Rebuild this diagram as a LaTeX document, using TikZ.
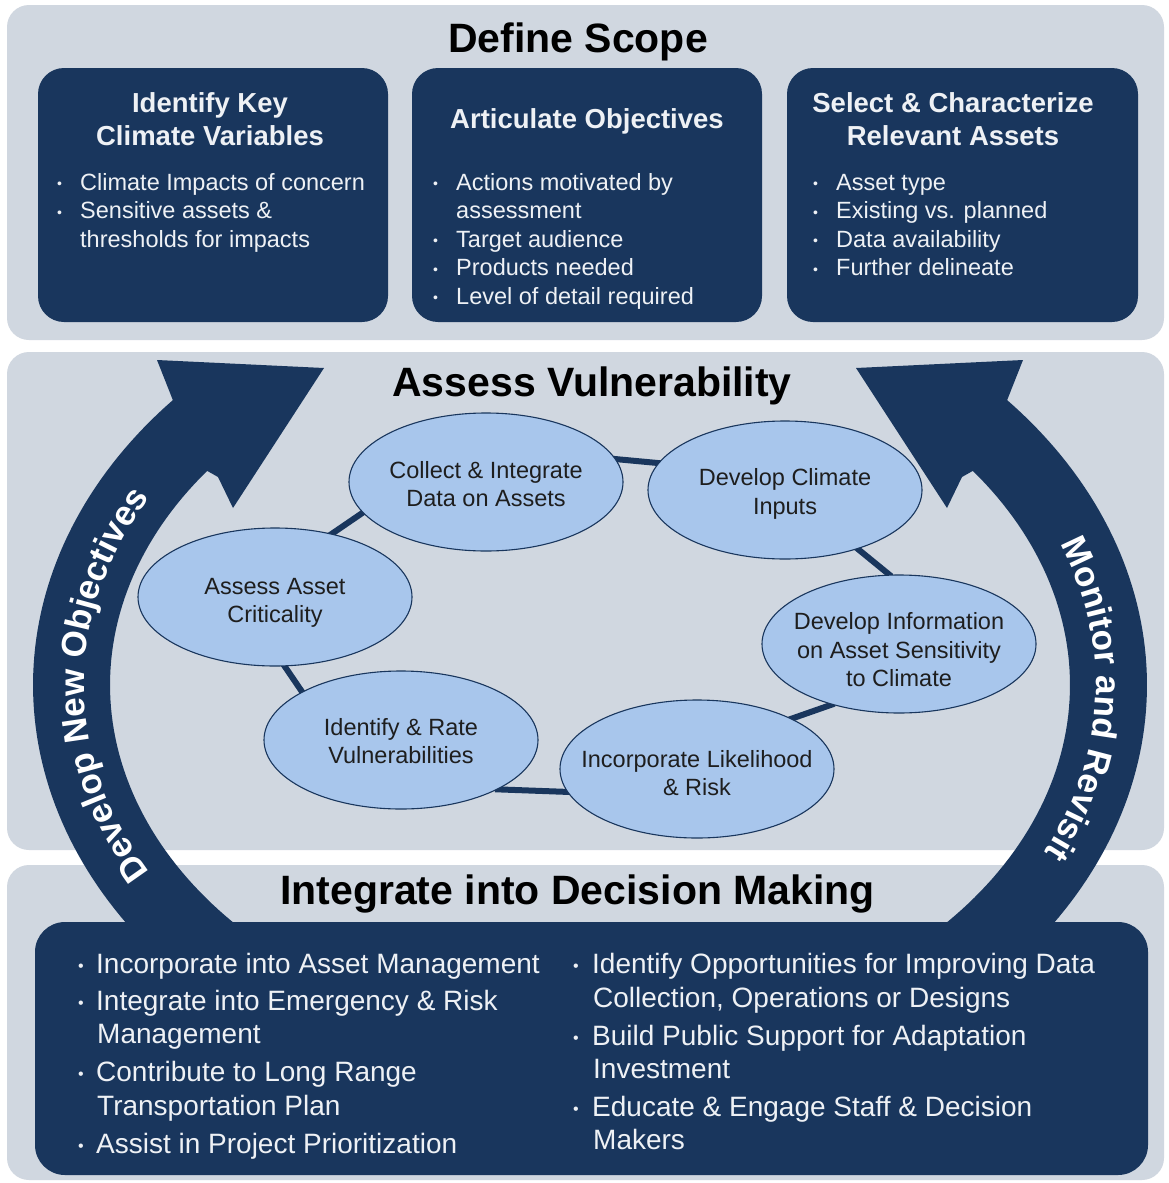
\documentclass[tikz,border=0pt]{standalone}
\usepackage{fontspec}
\setmainfont{Liberation Sans}
\usetikzlibrary{shapes.geometric,decorations.text}
\definecolor{navy}{RGB}{25,54,93}
\definecolor{panel}{RGB}{208,215,224}
\definecolor{ellfill}{RGB}{168,198,236}
\definecolor{wtxt}{RGB}{238,241,245}
\definecolor{etext}{RGB}{30,30,30}
\pgfdeclarelayer{bg}
\pgfdeclarelayer{fg}
\pgfsetlayers{bg,main,fg}
\newcommand\mybul[2]{\makebox[#1pt][l]{\raisebox{1.5pt}{\fontsize{#2}{#2}\selectfont\textbullet}}}
\newcommand\arrowfont{\fontsize{35}{35}\selectfont\bfseries}
\begin{document}
\begin{tikzpicture}[x=1pt,y=-1pt,
  titletext/.style={font=\fontsize{41}{41}\selectfont\bfseries, text=black, inner sep=0, anchor=base},
  headtext/.style={font=\fontsize{27.5}{33}\selectfont\bfseries, text=wtxt, inner sep=0, anchor=base},
  bt/.style={font=\fontsize{23.5}{28}\selectfont, text=wtxt, inner sep=0, anchor=base west},
  bb/.style={font=\fontsize{28}{33}\selectfont, text=wtxt, inner sep=0, anchor=base west},
  navybox/.style={fill=navy, rounded corners=26pt, inner sep=0},
  ell/.style={ellipse, fill=ellfill, draw=navy, line width=1.1pt, minimum width=274pt, minimum height=138pt, inner sep=0},
  etxt/.style={font=\fontsize{23.5}{28.5}\selectfont, align=center, text=etext, inner sep=0},
  ringline/.style={draw=navy, line width=6pt, shorten <=-3pt, shorten >=-3pt},
  panelbox/.style={fill=panel, rounded corners=22pt}
]
\useasboundingbox (0,0) rectangle (1169,1183);

\begin{pgfonlayer}{bg}
\fill[white] (0,0) rectangle (1169,1183);
\fill[panelbox] (7,5) rectangle (1164,340);
\fill[panelbox] (7,352) rectangle (1164,850);
\fill[panelbox] (7,865) rectangle (1164,1180);
\end{pgfonlayer}

% titles
\node[titletext] (t1) at (578,52.7) {Define Scope};
\node[titletext] (t2) at (592,396.7) {Assess Vulnerability};
\node[titletext] (t3) at (577.5,904) {Integrate into Decision Making};

% top boxes
\node[navybox, minimum width=350pt, minimum height=254pt] (sc1) at (213,195) {};
\node[navybox, minimum width=350pt, minimum height=254pt] (sc2) at (587,195) {};
\node[navybox, minimum width=351pt, minimum height=254pt] (sc3) at (962.5,195) {};

\node[headtext] (h1a) at (210,112) {Identify Key};
\node[headtext] (h1b) at (210,145) {Climate Variables};
\node[headtext] (h2a) at (587,128) {Articulate Objectives};
\node[headtext] (h3a) at (953,112) {Select \& Characterize};
\node[headtext] (h3b) at (953,145) {Relevant Assets};

\node[bt] (l1a) at (57,190) {\mybul{23}{14}Climate Impacts of concern};
\node[bt] (l1b) at (57,218.6) {\mybul{23}{14}Sensitive assets \&};
\node[bt] (l1c) at (80,247.2) {thresholds for impacts};

\node[bt] (l2a) at (433,190) {\mybul{23}{14}Actions motivated by};
\node[bt] (l2b) at (456,218.6) {assessment};
\node[bt] (l2c) at (433,247.2) {\mybul{23}{14}Target audience};
\node[bt] (l2d) at (433,275.8) {\mybul{23}{14}Products needed};
\node[bt] (l2e) at (433,304.4) {\mybul{23}{14}Level of detail required};

\node[bt] (l3a) at (813,190) {\mybul{23}{14}Asset type};
\node[bt] (l3b) at (813,218.6) {\mybul{23}{14}Existing vs. planned};
\node[bt] (l3c) at (813,247.2) {\mybul{23}{14}Data availability};
\node[bt] (l3d) at (813,275.8) {\mybul{23}{14}Further delineate};

% big curved arrows
\fill[navy] plot[domain=140.2:221.5, samples=70] ({590+557*cos(\x)},{685+430*sin(\x)})
  -- (157,360) -- (324,368) -- (233,508) -- (218,477)
  -- plot[domain=217.1:129.2, samples=70] ({590+480*cos(\x)},{685+355*sin(\x)}) -- cycle;
\fill[navy] plot[domain=39.8:-41.5, samples=70] ({590+557*cos(\x)},{685+430*sin(\x)})
  -- (1023,360) -- (856,368) -- (947,508) -- (962,477)
  -- plot[domain=-37.1:50.8, samples=70] ({590+480*cos(\x)},{685+355*sin(\x)}) -- cycle;

\path[decorate, decoration={text along path, text align=center,
   text={|\arrowfont\color{white}|Develop New Objectives}}]
   plot[domain=140:220, samples=90] ({590+506*cos(\x)},{685+380*sin(\x)});
\path[decorate, decoration={text along path, text align=center,
   text={|\arrowfont\color{white}|Monitor and Revisit}}]
   plot[domain=-38:42, samples=90] ({590+506*cos(\x)},{685+380*sin(\x)});

% bottom box
\node[navybox, rounded corners=30pt, minimum width=1113pt, minimum height=253pt] (db) at (591.5,1048.5) {};

\node[bb] (d1) at (78,973) {\mybul{18}{16}Incorporate into Asset Management};
\node[bb] (d2) at (78,1010) {\mybul{18}{16}Integrate into Emergency \& Risk};
\node[bb] (d3) at (97,1043) {Management};
\node[bb] (d4) at (78,1081) {\mybul{18}{16}Contribute to Long Range};
\node[bb] (d5) at (97,1115) {Transportation Plan};
\node[bb] (d6) at (78,1153) {\mybul{18}{16}Assist in Project Prioritization};

\node[bb] (r1) at (573,973) {\mybul{19}{16}Identify Opportunities for Improving Data};
\node[bb] (r2) at (593,1007) {Collection, Operations or Designs};
\node[bb] (r3) at (573,1045) {\mybul{19}{16}Build Public Support for Adaptation};
\node[bb] (r4) at (593,1078) {Investment};
\node[bb] (r5) at (573,1116) {\mybul{19}{16}Educate \& Engage Staff \& Decision};
\node[bb] (r6) at (593,1149) {Makers};

% ellipses (on the foreground layer, above the ring connectors)
\begin{pgfonlayer}{fg}
\node[ell] (e1) at (486,482) {};
\node[ell] (e2) at (785,490) {};
\node[ell] (e3) at (275,597) {};
\node[ell] (e4) at (899,644) {};
\node[ell] (e5) at (401,740) {};
\node[ell] (e6) at (697,769) {};

\node[etxt] (e1t) at (486,484) {Collect \& Integrate\\Data on Assets};
\node[etxt] (e2t) at (785,494) {Develop Climate\\Inputs};
\node[etxt] (e3t) at (275,603) {Assess Asset\\Criticality};
\node[etxt] (e4t) at (899,650) {Develop Information\\on Asset Sensitivity\\to Climate};
\node[etxt] (e5t) at (401,741) {Identify \& Rate\\Vulnerabilities};
\node[etxt] (e6t) at (697,773) {Incorporate Likelihood\\\& Risk};
\end{pgfonlayer}

% ring connectors
\draw[ringline] (e1.10) -- (e2.168);
\draw[ringline] (e1.194) -- (e3.48);
\draw[ringline] (e3.-82) -- (e5.154);
\draw[ringline] (e5.-27) -- (e6.-170);
\draw[ringline] (e6.28) -- (e4.-138);
\draw[ringline] (e4.98) -- (e2.-39);
\end{tikzpicture}
\end{document}
